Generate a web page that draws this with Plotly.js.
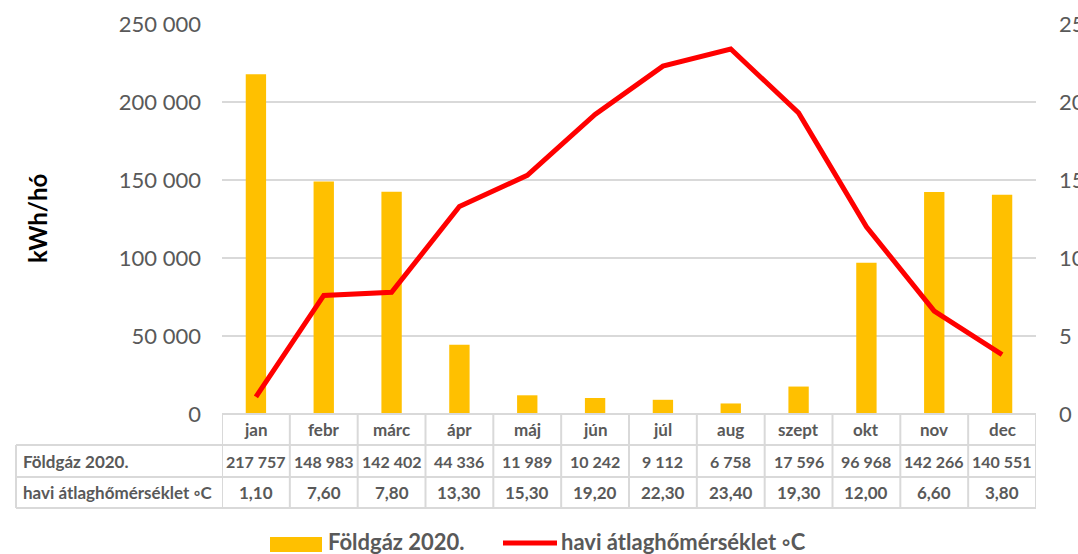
<!DOCTYPE html>
<html>
<head>
<meta charset="utf-8">
<script src="https://cdn.plot.ly/plotly-3.0.1.min.js"></script>
<style>html,body{margin:0;padding:0;background:#fff;}#chart{width:1078px;height:554px;}</style>
</head>
<body>
<div id="chart"></div>
<script>
const months = ["jan","febr","márc","ápr","máj","jún","júl","aug","szept","okt","nov","dec"];
const gasName = "Földgáz 2020.";
const tempName = "havi átlaghőmérséklet ◦C";
const gas = [217757,148983,142402,44336,11989,10242,9112,6758,17596,96968,142266,140551];
const temp = [1.10,7.60,7.80,13.30,15.30,19.20,22.30,23.40,19.30,12.00,6.60,3.80];
const yTitle = "kWh/hó";

const W = 1078, H = 554;
const L = 222, R = 1036, T = 24, B = 414;
const pw = R - L, ph = B - T;
const px = v => (v - L) / pw;
const py = v => (B - v) / ph;

const grey = "#595959";
const border = "#d9d9d9";
const font = "Lato, 'Open Sans', sans-serif";

function fmtGas(v){ return String(v).replace(/\B(?=(\d{3})+(?!\d))/g, " "); }
function fmtTemp(v){ return v.toFixed(2).replace(".", ","); }

const traces = [
  {type:"bar", x:months, y:gas, name:gasName, marker:{color:"#FFC000"}, width:0.3, showlegend:false, hoverinfo:"skip"},
  {type:"scatter", mode:"lines", x:months, y:temp, name:tempName, yaxis:"y2", line:{color:"#FF0000", width:5}, showlegend:false, hoverinfo:"skip"}
];

const shapes = [];
const annotations = [];
const rowY = [414, 445, 477, 508];
shapes.push({type:"line", xref:"paper", yref:"paper", x0:px(L), x1:px(R), y0:py(rowY[0]), y1:py(rowY[0]), line:{color:border, width:2}});
for (let i = 1; i < rowY.length; i++) {
  shapes.push({type:"line", xref:"paper", yref:"paper", x0:px(16), x1:px(R), y0:py(rowY[i]), y1:py(rowY[i]), line:{color:border, width:2}});
}
shapes.push({type:"line", xref:"paper", yref:"paper", x0:px(16), x1:px(16), y0:py(rowY[1]), y1:py(rowY[3]), line:{color:border, width:2}});
for (let k = 0; k <= months.length; k++) {
  shapes.push({type:"line", xref:"x", yref:"paper", x0:k-0.5, x1:k-0.5, y0:py(rowY[0]), y1:py(rowY[3]), line:{color:border, width:2}});
}
const cellFont = {family:font, size:16, color:grey};
const rowC = [(rowY[0]+rowY[1])/2, (rowY[1]+rowY[2])/2, (rowY[2]+rowY[3])/2];
months.forEach((m, i) => {
  annotations.push({xref:"x", yref:"paper", x:m, y:py(rowC[0]), text:"<b>"+m+"</b>", showarrow:false, font:{family:font, size:17, color:grey}, xanchor:"center", yanchor:"middle"});
  annotations.push({xref:"x", yref:"paper", x:m, y:py(rowC[1]), text:"<b>"+fmtGas(gas[i])+"</b>", showarrow:false, font:cellFont, xanchor:"center", yanchor:"middle"});
  annotations.push({xref:"x", yref:"paper", x:m, y:py(rowC[2]), text:"<b>"+fmtTemp(temp[i])+"</b>", showarrow:false, font:{family:font, size:17, color:grey}, xanchor:"center", yanchor:"middle"});
});
const labelFont = {family:font, size:17, color:grey};
annotations.push({xref:"paper", yref:"paper", x:px(21), y:py(rowC[1]), text:"<b>"+gasName+"</b>", showarrow:false, font:labelFont, xanchor:"left", yanchor:"middle"});
annotations.push({xref:"paper", yref:"paper", x:px(21), y:py(rowC[2]), text:"<b>"+tempName+"</b>", showarrow:false, font:labelFont, xanchor:"left", yanchor:"middle"});

// legend (manual)
const legY = 543;
shapes.push({type:"rect", xref:"paper", yref:"paper", x0:px(270), x1:px(322), y0:py(537), y1:py(552), fillcolor:"#FFC000", line:{width:0}});
shapes.push({type:"line", xref:"paper", yref:"paper", x0:px(503), x1:px(557), y0:py(legY), y1:py(legY), line:{color:"#FF0000", width:5}});
const legFont = {family:font, size:22, color:grey};
annotations.push({xref:"paper", yref:"paper", x:px(326), y:py(541), text:"<b>"+gasName+"</b>", showarrow:false, font:legFont, xanchor:"left", yanchor:"middle"});
annotations.push({xref:"paper", yref:"paper", x:px(559), y:py(541), text:"<b>"+tempName+"</b>", showarrow:false, font:legFont, xanchor:"left", yanchor:"middle"});
// y title
annotations.push({xref:"paper", yref:"paper", x:px(37), y:py(219), text:"<b>"+yTitle+"</b>", showarrow:false, textangle:-90, font:{family:font, size:24, color:"#000"}, xanchor:"center", yanchor:"middle"});

const layout = {
  width:W, height:H,
  margin:{l:L, r:W-R, t:T, b:H-B},
  paper_bgcolor:"#fff", plot_bgcolor:"#fff",
  separators:", ",
  font:{family:font, color:grey},
  showlegend:false,
  xaxis:{type:"category", range:[-0.5, months.length-0.5], showticklabels:false, ticks:"", showgrid:false, zeroline:false, showline:false, fixedrange:true},
  yaxis:{range:[0,250000], dtick:50000, tickformat:",d", showgrid:true, gridcolor:border, gridwidth:1.5, zeroline:false, showline:false, ticks:"", ticklabelstandoff:20, tickfont:{family:font, size:22, color:grey}},
  yaxis2:{range:[0,25], dtick:5, overlaying:"y", side:"right", showgrid:false, zeroline:false, showline:false, ticks:"", ticklabelstandoff:22, tickfont:{family:font, size:22, color:grey}},
  shapes:shapes,
  annotations:annotations
};

Plotly.newPlot("chart", traces, layout, {staticPlot:true, displayModeBar:false});
</script>
</body>
</html>
